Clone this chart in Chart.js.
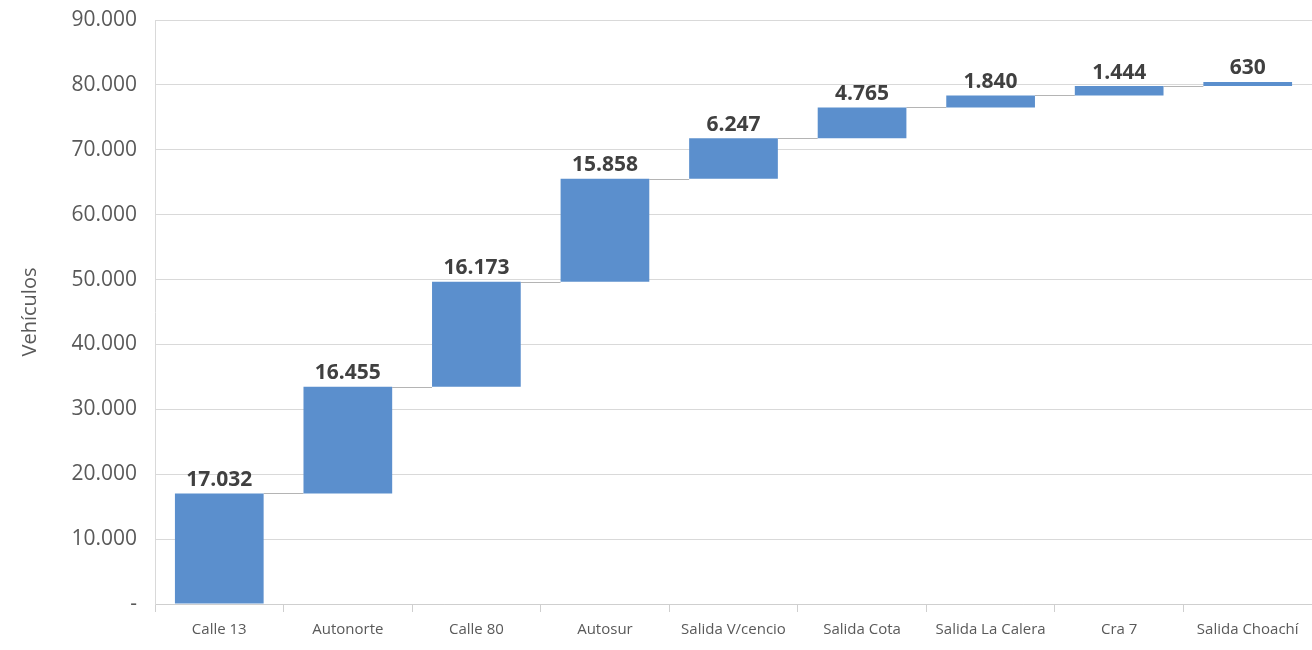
<!DOCTYPE html>
<html>
<head>
<meta charset="utf-8">
<script src="https://cdn.jsdelivr.net/npm/chart.js@4"></script>
<style>
  html, body { margin: 0; padding: 0; background: #fff; }
  #wrap { width: 1312px; height: 650px; }
</style>
</head>
<body>
<div id="wrap"><canvas id="myChart" width="1312" height="650"></canvas></div>
<script>
const categories = ['Calle 13', 'Autonorte', 'Calle 80', 'Autosur', 'Salida V/cencio', 'Salida Cota', 'Salida La Calera', 'Cra 7', 'Salida Choachí']
const increments = [17032, 16455, 16173, 15858, 6247, 4765, 1840, 1444, 630]
const yTicks = [0, 10000, 20000, 30000, 40000, 50000, 60000, 70000, 80000, 90000]

// running totals -> floating bars [start, end]
const ends = []
increments.reduce((acc, v) => { ends.push(acc + v); return acc + v }, 0)
const floating = increments.map((v, i) => [ends[i] - v, ends[i]])

const fmt = (v) => v === 0 ? '-' : String(v).replace(/\B(?=(\d{3})+(?!\d))/g, '.')

const connectors = {
    id: 'connectors',
    beforeDatasetsDraw(chart) {
        const { ctx, scales: { y } } = chart
        const bars = chart.getDatasetMeta(0).data
        ctx.save()
        ctx.strokeStyle = '#b4b4b4'
        ctx.lineWidth = 1
        for (let i = 0; i < bars.length - 1; i++) {
            const py = Math.round(y.getPixelForValue(ends[i])) + 0.5
            ctx.beginPath()
            ctx.moveTo(bars[i].x + bars[i].width / 2, py)
            ctx.lineTo(bars[i + 1].x - bars[i + 1].width / 2, py)
            ctx.stroke()
        }
        ctx.restore()
    }
}

const valueLabels = {
    id: 'valueLabels',
    afterDatasetsDraw(chart) {
        const { ctx, scales: { y } } = chart
        const bars = chart.getDatasetMeta(0).data
        ctx.save()
        ctx.font = 'bold 21px "Open Sans", sans-serif'
        ctx.fillStyle = '#404040'
        ctx.textAlign = 'center'
        ctx.textBaseline = 'bottom'
        bars.forEach((b, i) => {
            ctx.fillText(fmt(increments[i]), b.x, y.getPixelForValue(ends[i]) - 3)
        })
        ctx.restore()
    }
}

const config = {
    type: 'bar',
    data: {
        labels: categories,
        datasets: [{
            label: 'Vehículos',
            data: floating,
            backgroundColor: '#5b8fcd',
            borderWidth: 0,
            barPercentage: 0.69,
            categoryPercentage: 1
        }]
    },
    options: {
        responsive: false,
        animation: false,
        layout: { padding: { top: 20, right: 0, left: 0, bottom: 0 } },
        plugins: {
            legend: { display: false },
            tooltip: { enabled: false }
        },
        scales: {
            x: {
                afterFit: (s) => { s.height = 46 },
                grid: { display: true, drawOnChartArea: false, offset: true, tickLength: 8, color: '#cfcfcf' },
                border: { color: '#cfcfcf' },
                ticks: { color: '#595959', font: { family: '"Open Sans", sans-serif', size: 15 }, padding: 9, maxRotation: 0, autoSkip: false }
            },
            y: {
                min: 0,
                max: 90000,
                afterFit: (s) => { s.width = 155; s.paddingTop = 0; s.paddingBottom = 0 },
                afterBuildTicks: (s) => { s.ticks = yTicks.map(v => ({ value: v })) },
                grid: { color: '#d9d9d9', drawTicks: false },
                border: { color: '#d9d9d9' },
                ticks: { color: '#595959', font: { family: '"Open Sans", sans-serif', size: 21 }, padding: 18, callback: (v) => fmt(v) },
                title: { display: true, text: 'Vehículos', color: '#595959', font: { family: '"Open Sans", sans-serif', size: 20 }, padding: { top: 18, bottom: 0 } }
            }
        }
    },
    plugins: [connectors, valueLabels]
}

new Chart(document.getElementById('myChart'), config)
</script>
</body>
</html>
